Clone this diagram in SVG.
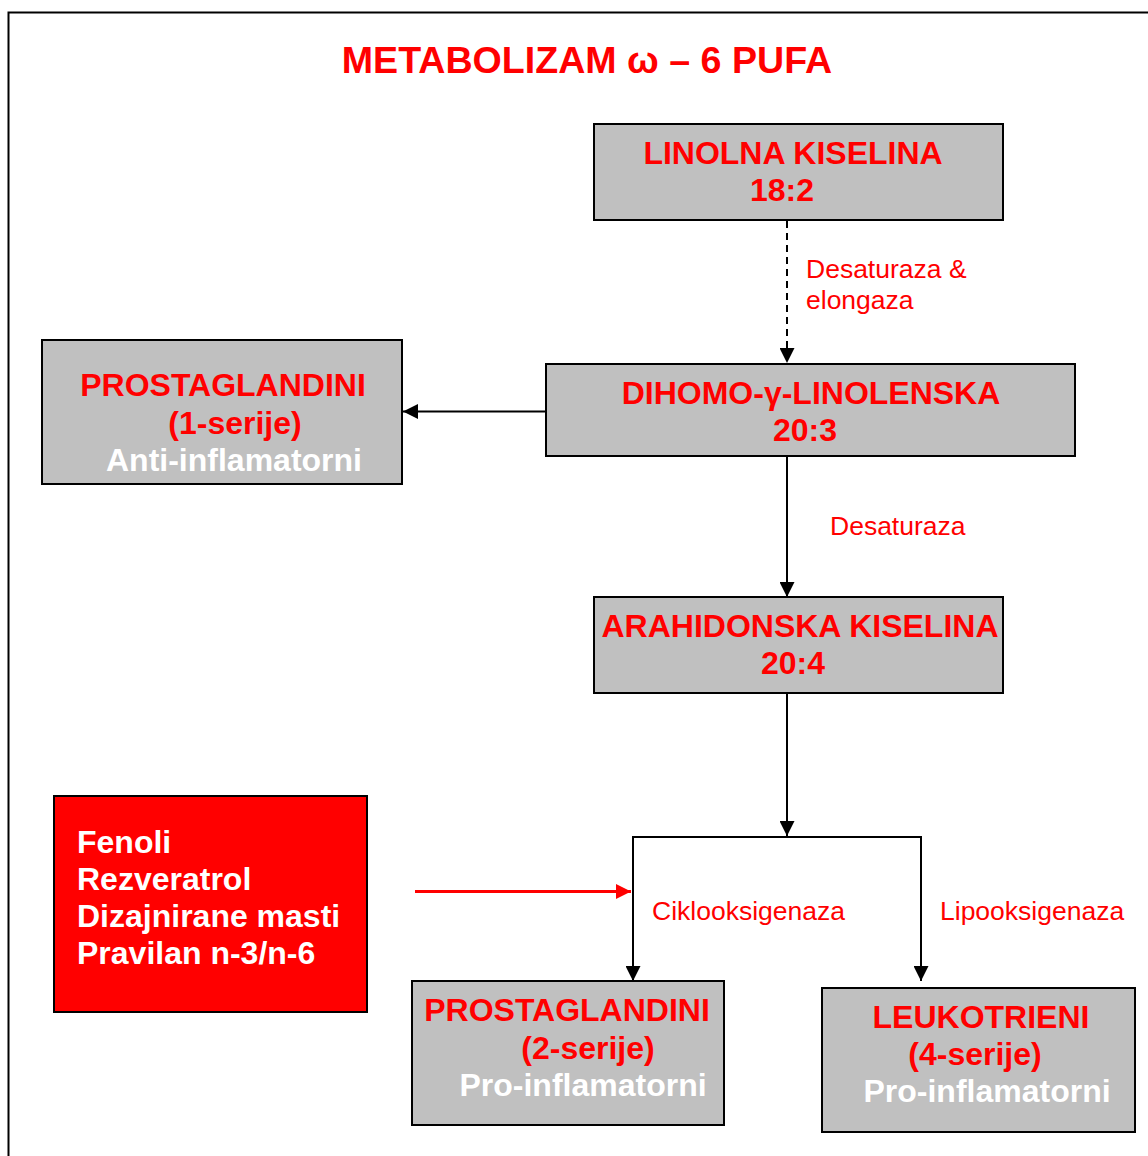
<svg xmlns="http://www.w3.org/2000/svg" width="1148" height="1156" viewBox="0 0 1148 1156">
<defs>
<style>
.box{fill:#c0c0c0;stroke:#000;stroke-width:2}
.t{font-family:"Liberation Sans",Arial,sans-serif;font-weight:bold;font-size:32px;text-anchor:middle}
.s{text-anchor:start}
.r{fill:#ff0000}
.w{fill:#ffffff}
.lbl{font-family:"Liberation Sans",Arial,sans-serif;font-size:26.5px;fill:#ff0000}
.c{stroke:#000;stroke-width:2;fill:none}
</style>
<marker id="ah" viewBox="0 0 10 10" refX="10" refY="5" markerWidth="15" markerHeight="15" markerUnits="userSpaceOnUse" orient="auto">
<path d="M0,0 L10,5 L0,10 z" fill="#000"/>
</marker>
<marker id="ahr" viewBox="0 0 10 10" refX="10" refY="5" markerWidth="15" markerHeight="15" markerUnits="userSpaceOnUse" orient="auto">
<path d="M0,0 L10,5 L0,10 z" fill="#ff0000"/>
</marker>
</defs>
<rect x="0" y="0" width="1148" height="1156" fill="#fff"/>
<rect x="8.5" y="12.5" width="1150" height="1160" fill="none" stroke="#000" stroke-width="2"/>
<text x="587" y="73" font-family="Liberation Sans,Arial,sans-serif" font-weight="bold" font-size="37.6" fill="#ff0000" text-anchor="middle">METABOLIZAM ω – 6 PUFA</text>

<g id="connectors">
<line class="c" x1="787" y1="221" x2="787" y2="363" stroke-dasharray="7,5" marker-end="url(#ah)"/>
<line class="c" x1="546" y1="411.5" x2="403" y2="411.5" marker-end="url(#ah)"/>
<line class="c" x1="787" y1="456" x2="787" y2="597" marker-end="url(#ah)"/>
<line class="c" x1="787" y1="693" x2="787" y2="836" marker-end="url(#ah)"/>
<polyline class="c" points="633,981 633,837 921,837 921,981"/>
<line class="c" x1="633" y1="900" x2="633" y2="981" marker-end="url(#ah)"/>
<line class="c" x1="921" y1="900" x2="921" y2="981" marker-end="url(#ah)"/>
<line x1="415" y1="891.5" x2="631" y2="891.5" stroke="#ff0000" stroke-width="3" marker-end="url(#ahr)"/>
<text class="lbl" x="806" y="278">Desaturaza &amp;</text>
<text class="lbl" x="806" y="309">elongaza</text>
<text class="lbl" x="830" y="535">Desaturaza</text>
<text class="lbl" x="652" y="920">Ciklooksigenaza</text>
<text class="lbl" x="940" y="920">Lipooksigenaza</text>
</g>

<g id="linolna">
<rect class="box" x="594" y="124" width="409" height="96"/>
<text class="t r" x="793" y="164">LINOLNA KISELINA</text>
<text class="t r" x="782" y="201">18:2</text>
</g>

<g id="dihomo">
<rect class="box" x="546" y="364" width="529" height="92"/>
<text class="t r" x="811" y="404">DIHOMO-γ-LINOLENSKA</text>
<text class="t r" x="805" y="441">20:3</text>
</g>

<g id="prostaglandini1">
<rect class="box" x="42" y="340" width="360" height="144"/>
<text class="t r" x="223" y="396">PROSTAGLANDINI</text>
<text class="t r" x="235" y="434">(1-serije)</text>
<text class="t w" x="234" y="471">Anti-inflamatorni</text>
</g>

<g id="arahidonska">
<rect class="box" x="594" y="597" width="409" height="96"/>
<text class="t r" x="800" y="637">ARAHIDONSKA KISELINA</text>
<text class="t r" x="793" y="674">20:4</text>
</g>

<g id="fenoli">
<rect x="54" y="796" width="313" height="216" fill="#ff0000" stroke="#000" stroke-width="2"/>
<text class="t w s" x="77" y="853">Fenoli</text>
<text class="t w s" x="77" y="890">Rezveratrol</text>
<text class="t w s" x="77" y="927">Dizajnirane masti</text>
<text class="t w s" x="77" y="964">Pravilan n-3/n-6</text>
</g>

<g id="prostaglandini2">
<rect class="box" x="412" y="981" width="312" height="144"/>
<text class="t r" x="567" y="1021">PROSTAGLANDINI</text>
<text class="t r" x="588" y="1059">(2-serije)</text>
<text class="t w" x="583" y="1096">Pro-inflamatorni</text>
</g>

<g id="leukotrieni">
<rect class="box" x="822" y="988" width="313" height="144"/>
<text class="t r" x="981" y="1028">LEUKOTRIENI</text>
<text class="t r" x="975" y="1065">(4-serije)</text>
<text class="t w" x="987" y="1102">Pro-inflamatorni</text>
</g>
</svg>
